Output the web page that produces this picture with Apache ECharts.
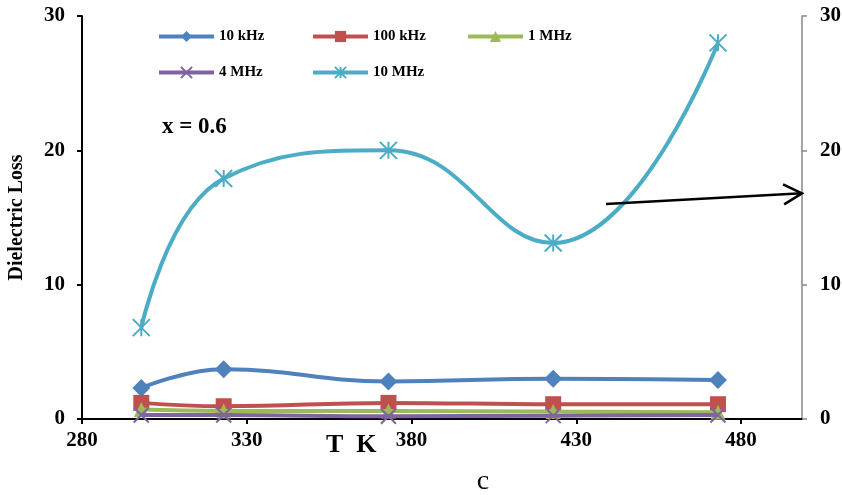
<!DOCTYPE html>
<html>
<head>
<meta charset="utf-8">
<script src="https://cdn.jsdelivr.net/npm/echarts@6/dist/echarts.min.js"></script>
<style>
html,body{margin:0;padding:0;background:#fff;}
#c{width:842px;height:495px;}
</style>
</head>
<body>
<div id="c"></div>
<script>
const temps = [298, 323, 373, 423, 473];
const seriesNames = ['10 kHz', '100 kHz', '1 MHz', '4 MHz', '10 MHz'];
const loss10k  = [2.3, 3.7, 2.8, 3.0, 2.9];
const loss100k = [1.2, 0.95, 1.2, 1.1, 1.1];
const loss1M   = [0.7, 0.6, 0.6, 0.55, 0.5];
const loss4M   = [0.3, 0.3, 0.2, 0.25, 0.3];
const loss10M  = [6.8, 17.9, 20.0, 13.1, 28.0];
const yTicks = [0, 10, 20, 30];
const xTickLabels = [280, 330, 380, 430, 480];

const colors = ['#4F81BD', '#C0504D', '#9BBB59', '#8064A2', '#4BACC6'];
const font = '"Liberation Serif", "Times New Roman", serif';
const xSym = 'path://M0,0L10,10M10,0L0,10';
const starSym = 'path://M0,0L10,10M10,0L0,10M5,0L5,10';

function mk(name, vals, idx, symbol, size, extra) {
  return Object.assign({
    name: name,
    type: 'line',
    smooth: 0.45,
    data: temps.map((t, i) => [t, vals[i]]),
    symbol: symbol,
    symbolSize: size,
    showAllSymbol: true,
    lineStyle: {width: 4, color: colors[idx]},
    itemStyle: {color: colors[idx]},
    z: 2 + idx
  }, extra || {});
}

// legend slots (one legend component per item so spacing is uniform)
const legendPos = [[157, 29], [311, 29], [466, 29], [157, 65], [311, 65]];
const legends = seriesNames.map((n, i) => ({
  data: [n], left: legendPos[i][0], top: legendPos[i][1], padding: 0,
  itemWidth: 55, itemHeight: 14, selectedMode: false,
  lineStyle: {width: 4},
  textStyle: {fontFamily: font, fontWeight: 'bold', fontSize: 15, color: '#000', padding: [0, 0, 0, 0]}
}));

const chart = echarts.init(document.getElementById('c'));
const option = {
  animation: false,
  backgroundColor: '#fff',
  grid: {left: 82, right: 40, top: 16, bottom: 76, containLabel: false, outerBoundsMode: 'none'},
  legend: legends,
  xAxis: {
    type: 'value', min: 280, max: 498.5, interval: 50,
    axisLine: {lineStyle: {color: '#000', width: 2}},
    axisTick: {show: true, length: 5, lineStyle: {color: '#000', width: 2}},
    splitLine: {show: false},
    axisLabel: {
      showMaxLabel: false, margin: 11,
      fontFamily: font, fontWeight: 'bold', fontSize: 21, color: '#000',
      formatter: v => (xTickLabels.indexOf(v) >= 0 ? String(v) : '')
    }
  },
  yAxis: [
    {
      type: 'value', min: yTicks[0], max: yTicks[yTicks.length - 1], interval: 10,
      name: 'Dielectric Loss', nameLocation: 'middle', nameRotate: 90, nameGap: 55,
      nameTextStyle: {fontFamily: font, fontWeight: 'bold', fontSize: 20, color: '#000'},
      axisLine: {show: true, lineStyle: {color: '#000', width: 2}},
      axisTick: {show: true, length: 5, lineStyle: {color: '#000', width: 2}},
      splitLine: {show: false},
      axisLabel: {margin: 17, fontFamily: font, fontWeight: 'bold', fontSize: 21, color: '#000'}
    },
    {
      type: 'value', position: 'right', min: yTicks[0], max: yTicks[yTicks.length - 1], interval: 10,
      axisLine: {show: true, lineStyle: {color: '#888', width: 1.5}},
      axisTick: {show: true, length: 5, lineStyle: {color: '#888', width: 1.5}},
      splitLine: {show: false},
      axisLabel: {margin: 18, fontFamily: font, fontWeight: 'bold', fontSize: 21, color: '#000'}
    }
  ],
  series: [
    mk(seriesNames[0], loss10k, 0, 'diamond', 18),
    mk(seriesNames[1], loss100k, 1, 'rect', 16),
    mk(seriesNames[2], loss1M, 2, 'triangle', 15),
    mk(seriesNames[3], loss4M, 3, xSym, 15, {itemStyle: {color: colors[3], borderColor: colors[3], borderWidth: 2}}),
    mk(seriesNames[4], loss10M, 4, starSym, 17, {itemStyle: {color: colors[4], borderColor: colors[4], borderWidth: 2}})
  ],
  graphic: [
    {type: 'text', x: 162, y: 127, style: {text: 'x = 0.6', font: 'bold 23px ' + font, fill: '#000', verticalAlign: 'middle'}},
    {type: 'text', x: 326, y: 445, style: {text: 'T  K', font: 'bold 26px ' + font, fill: '#000', verticalAlign: 'middle'}},
    {type: 'text', x: 483, y: 482, style: {text: 'c', font: '28px ' + font, fill: '#000', align: 'center', verticalAlign: 'middle'}}
  ]
};
chart.setOption(option);

// arrow annotation, placed in data coordinates
const aStart = chart.convertToPixel({gridIndex: 0}, [439, 16.0]);
const aEnd = chart.convertToPixel({gridIndex: 0}, [498.5, 16.8]);
const ang = Math.atan2(aEnd[1] - aStart[1], aEnd[0] - aStart[0]);
const hl = 21, ha = 0.5;
const p1 = [aEnd[0] - hl * Math.cos(ang - ha), aEnd[1] - hl * Math.sin(ang - ha)];
const p2 = [aEnd[0] - hl * Math.cos(ang + ha), aEnd[1] - hl * Math.sin(ang + ha)];
chart.setOption({
  graphic: option.graphic.concat([
    {type: 'line', shape: {x1: aStart[0], y1: aStart[1], x2: aEnd[0], y2: aEnd[1]}, style: {stroke: '#000', lineWidth: 2.5}, z: 100},
    {type: 'polyline', shape: {points: [p1, aEnd, p2]}, style: {stroke: '#000', lineWidth: 2.5, fill: null}, z: 100}
  ])
});
</script>
</body>
</html>
